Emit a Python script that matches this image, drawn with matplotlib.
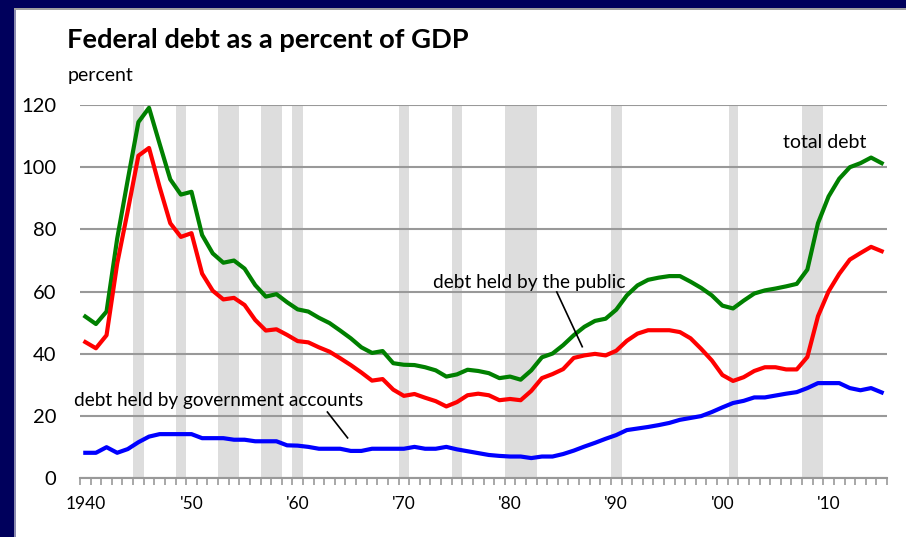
import matplotlib.pyplot as plt
from matplotlib.patches import Rectangle
from matplotlib.ticker import FixedLocator

plt.rcParams['font.family'] = ['Lato', 'DejaVu Sans']

years = list(range(1940, 2016))

total_debt = [
    52.0, 49.6, 53.6, 77.0, 96.0, 114.5, 119.1, 107.5, 96.1, 91.2,
    92.1, 78.2, 72.3, 69.3, 70.0, 67.4, 62.1, 58.4, 59.2, 56.6,
    54.3, 53.6, 51.6, 49.9, 47.5, 45.0, 42.1, 40.3, 40.9, 37.0,
    36.5, 36.4, 35.7, 34.7, 32.7, 33.4, 34.9, 34.5, 33.8, 32.2,
    32.7, 31.7, 34.7, 38.9, 40.1, 42.8, 46.0, 48.7, 50.6, 51.3,
    54.2, 58.8, 62.0, 63.8, 64.5, 65.0, 65.0, 63.2, 61.2, 58.8,
    55.5, 54.6, 57.1, 59.4, 60.4, 61.0, 61.7, 62.5, 67.1, 82.0,
    90.6, 96.3, 100.0, 101.3, 103.1, 101.3,
]

public_debt = [
    43.8, 41.8, 46.0, 69.0, 86.0, 103.7, 106.2, 93.6, 82.0, 77.6,
    78.8, 65.8, 60.3, 57.5, 58.0, 55.7, 50.9, 47.5, 47.9, 46.1,
    44.1, 43.7, 42.1, 40.7, 38.6, 36.4, 34.0, 31.4, 31.9, 28.5,
    26.5, 27.1, 25.9, 24.8, 23.1, 24.5, 26.7, 27.2, 26.7, 25.1,
    25.5, 25.1, 28.1, 32.2, 33.5, 35.1, 38.7, 39.5, 40.0, 39.5,
    41.0, 44.2, 46.5, 47.6, 47.6, 47.6, 47.0, 45.0, 41.6, 37.9,
    33.2, 31.3, 32.5, 34.5, 35.7, 35.7, 35.0, 35.0, 39.0, 52.1,
    60.1, 65.7, 70.3, 72.4, 74.4, 73.0,
]

gov_accounts = [
    8.2, 8.2, 10.0, 8.2, 9.4, 11.6, 13.4, 14.2, 14.2, 14.2,
    14.2, 12.9, 12.9, 12.9, 12.4, 12.4, 11.9, 11.9, 11.9, 10.6,
    10.5, 10.1, 9.5, 9.5, 9.5, 8.8, 8.8, 9.5, 9.5, 9.5,
    9.5, 10.1, 9.5, 9.5, 10.1, 9.3, 8.7, 8.1, 7.5, 7.2,
    7.0, 7.0, 6.5, 7.0, 7.0, 7.8, 8.9, 10.2, 11.4, 12.7,
    13.9, 15.5, 16.0, 16.5, 17.1, 17.8, 18.8, 19.4, 20.0, 21.3,
    22.8, 24.2, 24.9, 26.0, 26.0, 26.6, 27.2, 27.7, 29.0, 30.6,
    30.6, 30.6, 29.0, 28.3, 29.0, 27.6,
]

# recession periods, in fractional years
rec_start = [1944.5, 1948.5, 1952.5, 1956.5, 1959.5, 1969.5, 1974.5, 1979.5, 1989.5, 2000.6, 2007.5]
rec_end = [1945.5, 1949.5, 1954.5, 1958.5, 1960.5, 1970.5, 1975.5, 1982.5, 1990.5, 2001.45, 2009.5]

decade_ticks = [1940, 1950, 1960, 1970, 1980, 1990, 2000, 2010]
decade_labels = ['1940', "'50", "'60", "'70", "'80", "'90", "'00", "'10"]

fig = plt.figure(figsize=(9.06, 5.37), dpi=100)
fig.patch.set_facecolor('white')

# slide frame
navy = '#00005c'
fig.patches.append(Rectangle((0, 0), 14 / 906, 1, transform=fig.transFigure,
                             facecolor=navy, edgecolor='none', zorder=0))
fig.patches.append(Rectangle((0, 1 - 8 / 537), 1, 8 / 537, transform=fig.transFigure,
                             facecolor=navy, edgecolor='none', zorder=0))
fig.patches.append(Rectangle((14 / 906, 0), 1.5 / 906, 1 - 8 / 537, transform=fig.transFigure,
                             facecolor='#8c8cb0', edgecolor='none', zorder=0))
fig.patches.append(Rectangle((14 / 906, 1 - 9.5 / 537), 1, 1.5 / 537, transform=fig.transFigure,
                             facecolor='#a0a0a0', edgecolor='none', zorder=0))

ax = fig.add_axes([80 / 906, 1 - 478.3 / 537, 807 / 906, (478.3 - 105) / 537])

for s, e in zip(rec_start, rec_end):
    ax.axvspan(s, e, color='#dddddd', lw=0, zorder=0)

ax.plot(years, total_debt, color='#008000', lw=3, zorder=3)
ax.plot(years, public_debt, color='#ff0000', lw=3, zorder=3)
ax.plot(years, gov_accounts, color='#0000ff', lw=3, zorder=3)

ax.set_xlim(1939.5, 2015.5)
ax.set_ylim(0, 120)

ax.set_yticks(range(0, 121, 20))
ax.yaxis.grid(True, color='#999999', lw=1.5, zorder=1)
ax.set_axisbelow(False)
ax.tick_params(axis='y', length=0, pad=17, labelsize=14.5)

ax.set_xticks(decade_ticks)
ax.set_xticklabels(decade_labels)
ax.xaxis.set_minor_locator(FixedLocator([y + 0.5 for y in range(1939, 2016)]))
ax.tick_params(axis='x', which='major', length=0, pad=13, labelsize=12.5)
ax.tick_params(axis='x', which='minor', length=5, width=1.2, color='#999999', direction='out')

for side in ['left', 'right', 'top']:
    ax.spines[side].set_visible(False)
ax.spines['bottom'].set_color('#999999')
ax.spines['bottom'].set_linewidth(1.5)
ax.set_facecolor('none')

# series labels
ax.text(2009.6, 108.1, 'total debt', ha='center', va='center', fontsize=14)
ax.text(1981.8, 62.8, 'debt held by the public', ha='center', va='center', fontsize=13.8)
ax.plot([1984.4, 1986.8], [59.9, 42.3], color='black', lw=1.2, zorder=4)
ax.text(1952.6, 24.9, 'debt held by government accounts', ha='center', va='center', fontsize=13.7)
ax.plot([1962.8, 1964.7], [21.3, 13.0], color='black', lw=1.2, zorder=4)

fig.text(67 / 906, 1 - 40 / 537, 'Federal debt as a percent of GDP', ha='left', va='center',
         fontsize=19.6, fontweight='bold')
fig.text(68 / 906, 1 - 76 / 537, 'percent', ha='left', va='center', fontsize=14)

fig.savefig('out.png', dpi=100)
